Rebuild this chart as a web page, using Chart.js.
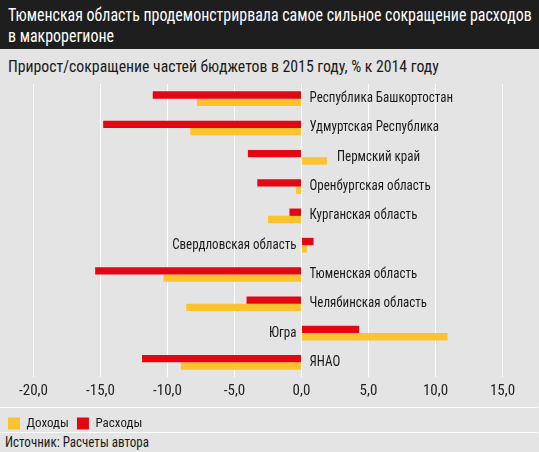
<!DOCTYPE html>
<html>
<head>
<meta charset="utf-8">
<script src="https://cdn.jsdelivr.net/npm/chart.js@4/dist/chart.umd.min.js"></script>
<style>
  body { margin: 0; }
  #wrap {
    position: relative; width: 539px; height: 452px; overflow: hidden;
    background: #e4e4e4;
    font-family: 'Roboto Condensed', 'Liberation Sans', sans-serif;
  }
  #head {
    position: absolute; left: 0; top: 0; width: 539px; height: 49px;
    background: #1e1e1e;
  }
  #head div {
    position: absolute; left: 8px; white-space: nowrap; color: #fff;
    font-size: 18px; line-height: 20px; transform: scaleX(0.885); transform-origin: 0 0;
  }
  #sub {
    position: absolute; left: 8px; top: 57px; font-size: 16px; color: #1a1a1a; line-height: 20px;
    white-space: nowrap; transform: scaleX(0.985); transform-origin: 0 0;
  }
  .sep { position: absolute; left: 0; width: 538px; height: 1px; background: #fff; }
  #box { position: absolute; left: 0; top: 80px; width: 539px; height: 360px; }
  #src { position: absolute; left: 0; top: 433px; width: 539px; height: 19px; background: #e4e4e4; }
  #src span { position: absolute; left: 5px; top: 0; font-size: 14px; color: #1a1a1a; line-height: 18px;
    white-space: nowrap; transform: scaleX(0.93); transform-origin: 0 0; }
</style>
</head>
<body>
<div id="wrap">
  <div id="head">
    <div style="top:5px">Тюменская область продемонстрирвала самое сильное сокращение расходов</div>
    <div style="top:26px">в макрорегионе</div>
  </div>
  <div id="sub">Прирост/сокращение частей бюджетов в 2015 году, % к 2014 году</div>
  <div id="box"><canvas id="chart"></canvas></div>
  <div class="sep" style="top:407px"></div>
  <div class="sep" style="top:432px"></div>
  <div id="src"><span>Источник: Расчеты автора</span></div>
</div>
<script>
'use strict';

let regions = ['Республика Башкортостан', 'Удмуртская Республика', 'Пермский край', 'Оренбургская область',
  'Курганская область', 'Свердловская область', 'Тюменская область', 'Челябинская область', 'Югра', 'ЯНАО'];
let expenses = [-11.1, -14.8, -4.0, -3.3, -0.9, 0.9, -15.4, -4.1, 4.3, -11.9];
let revenues = [-7.8, -8.3, 1.9, -0.4, -2.5, 0.4, -10.3, -8.6, 10.9, -9.0];
let xTicks = [-20, -15, -10, -5, 0, 5, 10, 15];

const FONT = "'Roboto Condensed', 'Liberation Sans', sans-serif";

// region names sit next to the zero line, or past the bar that crosses it
let regionLabels = {
  id: 'regionLabels',
  afterDatasetsDraw(chart) {
    let ctx = chart.ctx;
    let x = chart.scales.x;
    let y = chart.scales.y;
    let zero = x.getPixelForValue(0);
    ctx.save();
    ctx.font = '14px ' + FONT;
    ctx.fillStyle = '#1a1a1a';
    ctx.textBaseline = 'middle';
    for (let i = 0; i < regions.length; i++) {
      let hi = Math.max(expenses[i], revenues[i]);
      let lo = Math.min(expenses[i], revenues[i]);
      let cy = y.getPixelForValue(i);
      let tx;
      if (hi <= 0) {
        ctx.textAlign = 'left';
        tx = zero + 8;
      } else if (lo >= 0) {
        ctx.textAlign = 'right';
        tx = zero - 5;
      } else {
        ctx.textAlign = 'left';
        tx = x.getPixelForValue(hi) + 10;
      }
      ctx.save();
      ctx.translate(tx, cy);
      ctx.scale(0.93, 1); // the original face is a bit narrower
      ctx.fillText(regions[i], 0, 0);
      ctx.restore();
    }
    ctx.restore();
  }
};

new Chart(document.getElementById('chart'), {
  type: 'bar',
  data: {
    labels: regions,
    datasets: [{
      label: 'Расходы',
      data: expenses,
      backgroundColor: '#e30613',
      barPercentage: 1,
      categoryPercentage: 0.5
    },
    {
      label: 'Доходы',
      data: revenues,
      backgroundColor: '#fdc32f',
      barPercentage: 1,
      categoryPercentage: 0.5
    }]
  },
  options: {
    indexAxis: 'y',
    responsive: true,
    maintainAspectRatio: false,
    animation: false,
    layout: { padding: { left: 0, right: 3, top: 4, bottom: 0 } },
    scales: {
      x: {
        min: -22.5,
        max: 17.5,
        afterBuildTicks(axis) {
          axis.ticks = xTicks.map(v => ({ value: v }));
        },
        afterFit(axis) {
          axis.height += 4;
        },
        grid: { color: '#ffffff', lineWidth: 1, drawTicks: false },
        border: { display: false },
        ticks: {
          padding: 5,
          color: '#222',
          autoSkip: false,
          maxRotation: 0,
          font: { family: FONT, size: 15 },
          callback: v => v.toFixed(1).replace('.', ',')
        }
      },
      y: { display: false }
    },
    plugins: {
      tooltip: { enabled: false },
      legend: {
        position: 'bottom',
        align: 'start',
        reverse: true,
        labels: {
          boxWidth: 12,
          boxHeight: 12,
          padding: 8,
          color: '#1a1a1a',
          font: { family: FONT, size: 13 }
        }
      }
    }
  },
  plugins: [regionLabels]
});
</script>
</body>
</html>
